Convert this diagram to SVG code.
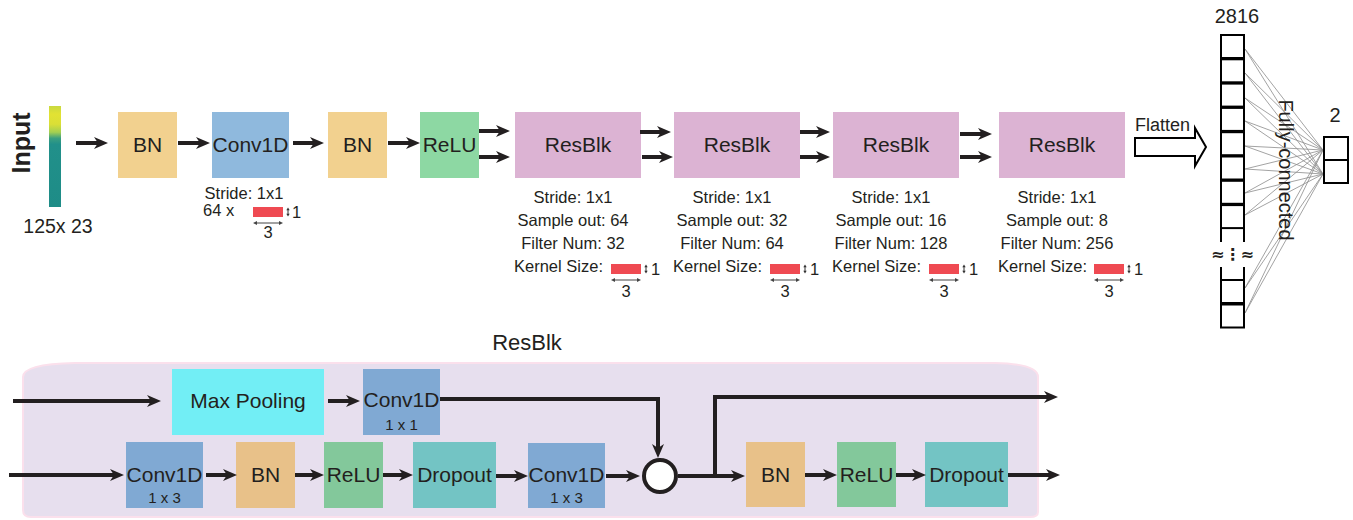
<svg xmlns="http://www.w3.org/2000/svg" xmlns:xlink="http://www.w3.org/1999/xlink" width="1353" height="520" viewBox="0 0 1353 520">
<style>
text{font-family:"Liberation Sans",Arial,sans-serif;fill:#231f20}
.lbl{font-size:21px;text-anchor:middle}
.sm{font-size:16.5px}
.mid{text-anchor:middle}
.tiny{font-size:15px;text-anchor:middle}
.arr{fill:none;stroke:#231f20;stroke-width:4}
.fc{stroke:#8c8c8c;stroke-width:0.8}
.cell{fill:#fff;stroke:#000;stroke-width:2}
</style>
<defs>
<marker id="ah" markerUnits="userSpaceOnUse" markerWidth="14" markerHeight="12" viewBox="0 0 14 12" refX="6" refY="6" orient="auto">
<path d="M0,0 L14,6 L0,12 L4,6 Z" fill="#231f20"/>
</marker>
<linearGradient id="inp" x1="0" y1="0" x2="0" y2="1">
<stop offset="0" stop-color="#c9d940"/>
<stop offset="0.08" stop-color="#e2e233"/>
<stop offset="0.18" stop-color="#dadf36"/>
<stop offset="0.26" stop-color="#a3cf52"/>
<stop offset="0.32" stop-color="#3a9f80"/>
<stop offset="0.38" stop-color="#21908a"/>
<stop offset="1" stop-color="#1e8c87"/>
</linearGradient>
<g id="kern">
<rect x="0" y="0" width="30" height="10" fill="#ef4a52"/>
<path d="M35,2 L35,8" stroke="#333" stroke-width="1"/>
<path d="M33.3,3.2 L35,0.5 L36.7,3.2 Z M33.3,6.8 L35,9.5 L36.7,6.8 Z" fill="#333"/>
<path d="M2,16 L28,16" stroke="#444" stroke-width="1"/>
<path d="M0,16 L4,14 L4,18 Z M30,16 L26,14 L26,18 Z" fill="#444"/>
</g>
</defs>

<g id="input">
<rect x="49" y="106" width="12" height="101" fill="url(#inp)"/>
<text transform="translate(30,143) rotate(-90)" text-anchor="middle" font-size="25" font-weight="bold">Input</text>
<text x="58" y="233" font-size="19.5" text-anchor="middle">125x 23</text>
</g>

<g id="bn1"><rect x="118" y="112" width="59" height="66" fill="#f2d18f"/><text class="lbl" x="147.5" y="152">BN</text></g>
<g id="conv1"><rect x="212" y="112" width="77" height="66" fill="#8fb9dd"/><text class="lbl" x="250.5" y="152">Conv1D</text>
<text class="sm mid" x="244" y="199">Stride: 1x1</text>
<text class="sm" x="203" y="216">64 x</text>
<use xlink:href="#kern" x="253" y="207"/>
<text class="sm" x="292" y="218">1</text>
<text class="sm mid" x="268" y="238">3</text>
</g>
<g id="bn2"><rect x="328" y="112" width="59" height="66" fill="#f2d18f"/><text class="lbl" x="357.5" y="152">BN</text></g>
<g id="relu1"><rect x="420" y="112" width="59" height="66" fill="#8dd8a3"/><text class="lbl" x="449.5" y="152">ReLU</text></g>

<g id="resblk1"><rect x="515" y="112" width="126" height="66" fill="#dcb3d3"/><text class="lbl" x="578" y="152">ResBlk</text>
<text class="sm mid" x="573" y="203">Stride: 1x1</text>
<text class="sm mid" x="573" y="226">Sample out: 64</text>
<text class="sm mid" x="573" y="249">Filter Num: 32</text>
<text class="sm" x="514" y="272">Kernel Size:</text>
<use xlink:href="#kern" x="611" y="264"/>
<text class="sm" x="651" y="275">1</text>
<text class="sm mid" x="626" y="297">3</text>
</g>
<g id="resblk2"><rect x="674" y="112" width="126" height="66" fill="#dcb3d3"/><text class="lbl" x="737" y="152">ResBlk</text>
<text class="sm mid" x="732" y="203">Stride: 1x1</text>
<text class="sm mid" x="732" y="226">Sample out: 32</text>
<text class="sm mid" x="732" y="249">Filter Num: 64</text>
<text class="sm" x="673" y="272">Kernel Size:</text>
<use xlink:href="#kern" x="770" y="264"/>
<text class="sm" x="810" y="275">1</text>
<text class="sm mid" x="785" y="297">3</text>
</g>
<g id="resblk3"><rect x="833" y="112" width="126" height="66" fill="#dcb3d3"/><text class="lbl" x="896" y="152">ResBlk</text>
<text class="sm mid" x="891" y="203">Stride: 1x1</text>
<text class="sm mid" x="891" y="226">Sample out: 16</text>
<text class="sm mid" x="891" y="249">Filter Num: 128</text>
<text class="sm" x="832" y="272">Kernel Size:</text>
<use xlink:href="#kern" x="929" y="264"/>
<text class="sm" x="969" y="275">1</text>
<text class="sm mid" x="944" y="297">3</text>
</g>
<g id="resblk4"><rect x="999" y="112" width="126" height="66" fill="#dcb3d3"/><text class="lbl" x="1062" y="152">ResBlk</text>
<text class="sm mid" x="1057" y="203">Stride: 1x1</text>
<text class="sm mid" x="1057" y="226">Sample out: 8</text>
<text class="sm mid" x="1057" y="249">Filter Num: 256</text>
<text class="sm" x="998" y="272">Kernel Size:</text>
<use xlink:href="#kern" x="1094" y="264"/>
<text class="sm" x="1134" y="275">1</text>
<text class="sm mid" x="1109" y="297">3</text>
</g>

<g id="flatten">
<polygon points="1135,138 1195,138 1195,128 1206,147 1195,166 1195,156 1135,156" fill="#fff" stroke="#000" stroke-width="2"/>
<text x="1135" y="131" font-size="18">Flatten</text>
</g>

<g id="fc-lines">
<g class="fc">
<line x1="1245" y1="49" x2="1323" y2="150"/><line x1="1245" y1="49" x2="1323" y2="174"/>
<line x1="1245" y1="73" x2="1323" y2="150"/><line x1="1245" y1="73" x2="1323" y2="174"/>
<line x1="1245" y1="98" x2="1323" y2="150"/><line x1="1245" y1="98" x2="1323" y2="174"/>
<line x1="1245" y1="121" x2="1323" y2="150"/><line x1="1245" y1="121" x2="1323" y2="174"/>
<line x1="1245" y1="146" x2="1323" y2="150"/><line x1="1245" y1="146" x2="1323" y2="174"/>
<line x1="1245" y1="169" x2="1323" y2="150"/><line x1="1245" y1="169" x2="1323" y2="174"/>
<line x1="1245" y1="193" x2="1323" y2="150"/><line x1="1245" y1="193" x2="1323" y2="174"/>
<line x1="1245" y1="215" x2="1323" y2="150"/><line x1="1245" y1="215" x2="1323" y2="174"/>
<line x1="1245" y1="288" x2="1323" y2="150"/><line x1="1245" y1="288" x2="1323" y2="174"/>
<line x1="1245" y1="313" x2="1323" y2="150"/><line x1="1245" y1="313" x2="1323" y2="174"/>
</g>
</g>

<g id="dense2816">
<text x="1237" y="23" font-size="20" text-anchor="middle">2816</text>
<rect class="cell" x="1221" y="35" width="23" height="23"/>
<rect class="cell" x="1221" y="59.3" width="23" height="23"/>
<rect class="cell" x="1221" y="83.6" width="23" height="23"/>
<rect class="cell" x="1221" y="107.9" width="23" height="23"/>
<rect class="cell" x="1221" y="132.2" width="23" height="23"/>
<rect class="cell" x="1221" y="156.5" width="23" height="23"/>
<rect class="cell" x="1221" y="180.8" width="23" height="23"/>
<rect class="cell" x="1221" y="205.1" width="23" height="23"/>
<path d="M1221,228 V242 M1244,228 V242 M1221,267 V280 M1244,267 V280" stroke="#000" stroke-width="2" fill="none"/>
<text x="1232.5" y="260" font-size="16" font-weight="bold" text-anchor="middle" style="font-family:'DejaVu Sans',sans-serif">≈⋮≈</text>
<rect class="cell" x="1221" y="280" width="23" height="23"/>
<rect class="cell" x="1221" y="304.5" width="23" height="23"/>
</g>

<g id="fc-label">
<text transform="translate(1279,170) rotate(90)" font-size="20" text-anchor="middle">Fully-connected</text>
</g>

<g id="dense2">
<text x="1335" y="122" font-size="20" text-anchor="middle">2</text>
<rect class="cell" x="1324" y="137" width="24" height="23"/>
<rect class="cell" x="1324" y="160" width="24" height="23"/>
</g>

<g id="top-connectors">
<path class="arr" marker-end="url(#ah)" d="M76,143 H100"/>
<path class="arr" marker-end="url(#ah)" d="M178,143 H202"/>
<path class="arr" marker-end="url(#ah)" d="M293,143 H316"/>
<path class="arr" marker-end="url(#ah)" d="M388,143 H412"/>
<path class="arr" marker-end="url(#ah)" d="M479,131 H502"/>
<path class="arr" marker-end="url(#ah)" d="M479,157 H502"/>
<path class="arr" marker-end="url(#ah)" d="M640,132 H663"/>
<path class="arr" marker-end="url(#ah)" d="M642,157 H665"/>
<path class="arr" marker-end="url(#ah)" d="M800,132 H822"/>
<path class="arr" marker-end="url(#ah)" d="M800,157 H822"/>
<path class="arr" marker-end="url(#ah)" d="M960,134 H984"/>
<path class="arr" marker-end="url(#ah)" d="M960,157 H984"/>
</g>

<g id="resblk-panel">
<path d="M23,377 Q23,364 75,363 L995,363 Q1038,364 1038,377 L1038,512 Q1038,517 1030,517 L31,517 Q23,517 23,510 Z" fill="#e7dfee" stroke="#fbe0ec" stroke-width="2"/>
<text x="527" y="350" font-size="22" text-anchor="middle">ResBlk</text>
</g>

<g id="maxpool"><rect x="172" y="369" width="152" height="66" fill="#72eef5"/><text x="248" y="408" font-size="21" text-anchor="middle">Max Pooling</text></g>
<g id="conv1x1"><rect x="363" y="369" width="77" height="66" fill="#80a9d3"/><text class="lbl" x="401.5" y="407">Conv1D</text><text class="tiny" x="401.5" y="430">1 x 1</text></g>
<g id="conv1x3a"><rect x="126" y="442" width="77" height="66" fill="#80a9d3"/><text class="lbl" x="164.5" y="482">Conv1D</text><text class="tiny" x="164.5" y="503">1 x 3</text></g>
<g id="bn3"><rect x="236" y="442" width="59" height="66" fill="#e8c189"/><text class="lbl" x="265.5" y="482">BN</text></g>
<g id="relu2"><rect x="324" y="442" width="59" height="66" fill="#83c89b"/><text class="lbl" x="353.5" y="482">ReLU</text></g>
<g id="dropout1"><rect x="413" y="442" width="83" height="66" fill="#73c4c4"/><text class="lbl" x="454.5" y="482">Dropout</text></g>
<g id="conv1x3b"><rect x="528" y="443" width="77" height="65" fill="#80a9d3"/><text class="lbl" x="566.5" y="482">Conv1D</text><text class="tiny" x="566.5" y="503">1 x 3</text></g>
<g id="add"><circle cx="660" cy="476" r="16" fill="#fff" stroke="#231f20" stroke-width="4"/></g>
<g id="bn4"><rect x="746" y="442" width="59" height="65" fill="#e8c189"/><text class="lbl" x="775.5" y="482">BN</text></g>
<g id="relu3"><rect x="837" y="442" width="59" height="65" fill="#83c89b"/><text class="lbl" x="866.5" y="482">ReLU</text></g>
<g id="dropout2"><rect x="925" y="442" width="83" height="65" fill="#73c4c4"/><text class="lbl" x="966.5" y="482">Dropout</text></g>

<g id="bottom-connectors">
<path class="arr" marker-end="url(#ah)" d="M13,401 H153"/>
<path class="arr" marker-end="url(#ah)" d="M328,401 H352"/>
<path class="arr" marker-end="url(#ah)" d="M440,399 H658 V450"/>
<path class="arr" marker-end="url(#ah)" d="M9,475 H116"/>
<path class="arr" marker-end="url(#ah)" d="M206,475 H229"/>
<path class="arr" marker-end="url(#ah)" d="M295,475 H316"/>
<path class="arr" marker-end="url(#ah)" d="M383,475 H405"/>
<path class="arr" marker-end="url(#ah)" d="M496,476 H520"/>
<path class="arr" marker-end="url(#ah)" d="M606,476 H632"/>
<path class="arr" marker-end="url(#ah)" d="M678,476 H737"/>
<path class="arr" marker-end="url(#ah)" d="M715,476 V397 H1050"/>
<path class="arr" marker-end="url(#ah)" d="M805,475 H829"/>
<path class="arr" marker-end="url(#ah)" d="M896,475 H918"/>
<path class="arr" marker-end="url(#ah)" d="M1008,475 H1052"/>
</g>
</svg>
